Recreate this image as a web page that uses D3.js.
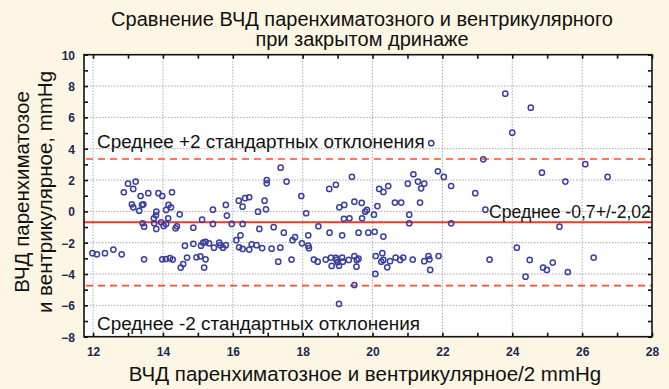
<!DOCTYPE html>
<html>
<head>
<meta charset="utf-8">
<script src="https://cdn.jsdelivr.net/npm/d3@7"></script>
<style>
  html, body { margin: 0; padding: 0; background: #fdf6e4; }
  svg { display: block; }
</style>
</head>
<body>
<script>
// Bland–Altman style comparison: mean of the two ICP readings vs. their difference
const meanICP = [
  12.88, 13.00, 13.22, 13.15, 13.36, 13.58, 13.87, 13.98, 14.26, 13.11,
  13.15, 13.44, 13.40, 13.32, 13.81, 14.16, 14.23, 14.09, 14.48, 13.80,
  13.74, 14.15, 13.42, 13.46, 13.75, 13.81, 13.95, 14.02, 14.09, 14.36,
  14.40, 14.87, 15.12, 15.43, 15.43, 15.80, 15.83, 15.97, 11.98, 12.11,
  12.34, 12.58, 12.82, 13.46, 13.98, 14.08, 14.20, 14.28, 14.51, 14.58,
  14.69, 14.63, 14.87, 15.09, 15.15, 15.22, 15.32, 15.46, 15.61, 15.64,
  15.72, 15.80, 14.96, 15.07, 15.22, 15.18,
  17.37, 16.97, 16.97, 17.54, 16.17, 16.35, 16.47, 16.28, 16.91, 16.72,
  16.95, 17.96, 18.10, 18.76, 18.95, 19.41, 19.05, 19.19, 19.48, 19.69,
  19.18, 19.34, 19.70, 19.79, 19.84, 20.04, 20.14, 20.19, 16.28, 16.76,
  17.17, 17.46, 17.78, 17.71, 18.16, 18.45, 18.77, 19.13, 19.60, 19.88,
  20.06, 16.10, 16.22, 16.18, 16.28, 16.47, 16.54, 16.68, 16.84, 17.11,
  17.36, 17.98, 18.16, 18.18, 17.30, 17.68, 18.32, 18.43, 18.66, 18.81,
  18.83, 18.95, 18.97, 19.00, 19.04, 19.13, 19.15, 19.32, 19.48, 19.55,
  19.60, 19.54, 20.09, 20.08, 19.48, 19.04,
  21.68, 24.00, 23.17, 21.17, 21.87, 22.04, 20.31, 20.45, 21.01, 21.30,
  21.48, 21.39, 22.25, 22.94, 20.64, 20.82, 21.36, 23.23, 21.05, 21.05,
  22.25, 20.31, 24.13, 20.28, 20.31, 20.25, 20.42, 20.50, 20.66, 20.79,
  20.88, 21.15, 21.48, 21.60, 21.63, 21.89, 21.65, 23.35,
  23.80, 24.53, 24.85, 25.52, 26.09, 26.73, 25.35, 24.50, 24.88, 24.99,
  25.16, 24.38, 25.59, 26.33
];
const diffICP = [
   1.22,  1.77,  1.90,  1.43,  0.98,  1.16,  1.16,  0.98,  1.22,  0.45,
   0.26,  0.45,  0.41,  0.04, -0.02,  0.41,  0.26,  0.09, -0.19, -0.25,
  -0.44, -0.44, -0.76, -0.98, -0.76, -1.12, -0.70, -0.93, -0.80, -1.08,
  -0.95, -1.04, -0.53,  0.11, -0.80,  0.41, -0.27, -0.80, -2.67, -2.74,
  -2.67, -2.44, -2.74, -3.06, -3.06, -3.04, -2.99, -3.08, -3.59, -3.36,
  -2.95, -2.19, -2.07, -2.19, -2.00, -1.95, -2.04, -2.32, -2.00, -2.16,
  -2.32, -2.16, -2.93, -2.87, -3.06, -3.59,
   2.79,  2.00,  1.79,  1.90,  0.68,  0.84,  0.90,  0.30,  0.68, -0.02,
   0.13,  0.98, -0.12,  1.43,  1.70,  2.21,  0.26,  0.41,  0.62,  0.54,
  -0.47, -0.44, -0.44, -0.02,  0.09, -0.21,  0.34,  1.43, -0.80, -1.12,
  -1.01, -1.36, -1.65, -1.84, -1.53, -0.95, -1.36, -1.53, -1.36, -1.36,
  -1.30, -1.84, -1.53, -2.29, -2.40, -2.44, -2.10, -2.16, -2.34, -2.38,
  -2.32, -2.04, -2.19, -2.35, -3.21, -3.08, -3.08, -3.21, -3.08, -2.95,
  -3.48, -2.97, -3.10, -3.25, -3.47, -2.95, -3.21, -3.10, -2.85, -3.10,
  -3.02, -3.53, -2.85, -3.99, -4.70, -5.91,
   4.35,  5.02,  3.32,  2.37,  2.56,  2.20,  1.24,  1.62,  1.77,  1.90,
   1.77,  1.47,  1.62,  1.16,  0.56,  0.56,  0.56,  0.11, -0.21, -0.76,
  -0.76, -1.61, -2.32, -2.67, -3.10, -3.21, -3.57, -3.18, -2.95, -3.10,
  -2.95, -3.08, -3.18, -2.85, -3.06, -2.85, -3.74, -3.08,
   7.51,  6.62,  2.47,  1.90,  3.01,  2.20, -0.98, -3.10, -3.59, -3.74,
  -3.27, -4.17, -3.87, -2.95
];

// summary statistics of the difference
const meanDiff = -0.7;
const sdDiff = 2.02;

const xDomain = [11.74, 28];
const yDomain = [-8, 10];
const xTickValues = [12, 14, 16, 18, 20, 22, 24, 26, 28];
const yTickValues = [-8, -6, -4, -2, 0, 2, 4, 6, 8, 10];

const titleLines = ["Сравнение ВЧД паренхиматозного и вентрикулярного", "при закрытом дринаже"];
const xLabel = "ВЧД паренхиматозное и вентрикулярное/2 mmHg";
const yLabelLines = ["ВЧД паренхиматозое", "и вентрикулярное, mmHg"];
const upperLabel = "Среднее +2 стандартных отклонения";
const lowerLabel = "Среднее -2 стандартных отклонения";
const meanLabel = "Среднее -0,7+/-2,02";

const W = 669, H = 389;
const plot = { left: 84, right: 652, top: 54.7, bottom: 336.7 };
const FONT = "'Liberation Sans', Arial, sans-serif";
const TICKFONT = "'Liberation Sans Narrow', 'Liberation Sans', Arial, sans-serif";

const svg = d3.select("body").append("svg").attr("width", W).attr("height", H);
svg.append("rect").attr("width", W).attr("height", H).attr("fill", "#fdf6e4");

const x = d3.scaleLinear().domain(xDomain).range([plot.left, plot.right]);
const y = d3.scaleLinear().domain(yDomain).range([plot.bottom, plot.top]);

// plot background
svg.append("rect")
  .attr("x", plot.left).attr("y", plot.top)
  .attr("width", plot.right - plot.left).attr("height", plot.bottom - plot.top)
  .attr("fill", "#ffffff");

// dotted grid at even values
const grid = svg.append("g").attr("stroke", "#a9a9a9").attr("stroke-width", 1)
  .attr("stroke-dasharray", "1.5,1.5");
grid.selectAll("line.gx").data(xTickValues.filter(v => v < xDomain[1])).join("line")
  .attr("x1", d => x(d)).attr("x2", d => x(d))
  .attr("y1", plot.top).attr("y2", plot.bottom);
grid.selectAll("line.gy").data(yTickValues.filter(v => v > yDomain[0] && v < yDomain[1])).join("line")
  .attr("y1", d => y(d)).attr("y2", d => y(d))
  .attr("x1", plot.left).attr("x2", plot.right);

// limits of agreement and mean difference
const upper = meanDiff + 2 * sdDiff;
const lower = meanDiff - 2 * sdDiff;
svg.selectAll("line.loa").data([upper, lower]).join("line")
  .attr("x1", plot.left + 2).attr("x2", plot.right)
  .attr("y1", d => y(d)).attr("y2", d => y(d))
  .attr("stroke", "#ff4b33").attr("stroke-width", 1.6)
  .attr("stroke-dasharray", "7,5");
svg.append("line")
  .attr("x1", plot.left).attr("x2", plot.right)
  .attr("y1", y(meanDiff)).attr("y2", y(meanDiff))
  .attr("stroke", "#ee3a2a").attr("stroke-width", 2);

// points
svg.append("g").selectAll("circle").data(meanICP.map((m, i) => [m, diffICP[i]])).join("circle")
  .attr("cx", d => x(d[0])).attr("cy", d => y(d[1]))
  .attr("r", 2.6)
  .attr("fill", "none").attr("stroke", "#3a3f9e").attr("stroke-width", 1.5);

// annotations
svg.append("text").attr("x", 97).attr("y", 148).text(upperLabel)
  .attr("font-family", FONT).attr("font-size", 18.9).attr("fill", "#111");
svg.append("text").attr("x", 97).attr("y", 330).text(lowerLabel)
  .attr("font-family", FONT).attr("font-size", 18.9).attr("fill", "#111");
svg.append("text").attr("x", 489).attr("y", 218).text(meanLabel)
  .attr("font-family", FONT).attr("font-size", 17.6).attr("fill", "#111");

// frame with inward ticks on all four sides
const minorX = d3.range(12, 29, 1);
const minorY = d3.range(-8, 11, 1);
const axes = svg.append("g");
axes.append("g").attr("transform", `translate(0,${plot.bottom})`)
  .call(d3.axisTop(x).tickValues(minorX).tickSize(4).tickFormat(""));
axes.append("g").attr("transform", `translate(0,${plot.top})`)
  .call(d3.axisBottom(x).tickValues(minorX).tickSize(4).tickFormat(""));
axes.append("g").attr("transform", `translate(${plot.left},0)`)
  .call(d3.axisRight(y).tickValues(minorY).tickSize(4).tickFormat(""));
axes.append("g").attr("transform", `translate(${plot.right},0)`)
  .call(d3.axisLeft(y).tickValues(minorY).tickSize(4).tickFormat(""));
axes.selectAll(".domain").remove();
axes.selectAll(".tick line").attr("stroke", "#111").attr("stroke-width", 1.6);
svg.append("rect")
  .attr("x", plot.left).attr("y", plot.top)
  .attr("width", plot.right - plot.left).attr("height", plot.bottom - plot.top)
  .attr("fill", "none").attr("stroke", "#111").attr("stroke-width", 1.6);

// tick labels
const xAxisLabels = svg.append("g").attr("transform", `translate(0,${plot.bottom + 8})`)
  .call(d3.axisBottom(x).tickValues(xTickValues).tickSize(0).tickFormat(d3.format("d")));
xAxisLabels.select(".domain").remove();
const yAxisLabels = svg.append("g").attr("transform", `translate(${plot.left - 6},0)`)
  .call(d3.axisLeft(y).tickValues(yTickValues).tickSize(0).tickFormat(d3.format("d")));
yAxisLabels.select(".domain").remove();
svg.selectAll(".tick text").filter(function () { return this.textContent !== ""; })
  .attr("font-family", TICKFONT).attr("font-size", 12).attr("font-weight", "bold")
  .attr("fill", "#1b2850");
yAxisLabels.selectAll("text").attr("dy", "0.36em");

// title
svg.append("text").attr("text-anchor", "middle").attr("font-family", FONT)
  .attr("font-size", 20).attr("fill", "#111")
  .selectAll("tspan").data(titleLines).join("tspan")
  .attr("x", 362).attr("y", (d, i) => 26 + i * 20).text(d => d);

// axis titles
svg.append("text").attr("x", (plot.left + plot.right) / 2 - 3).attr("y", 381)
  .attr("text-anchor", "middle").attr("font-family", FONT).attr("font-size", 20.5)
  .attr("fill", "#111").text(xLabel);
svg.append("text").attr("transform", "rotate(-90)")
  .attr("text-anchor", "middle").attr("font-family", FONT).attr("font-size", 20.5)
  .attr("fill", "#111")
  .selectAll("tspan").data(yLabelLines).join("tspan")
  .attr("x", -192).attr("y", (d, i) => 29 + i * 23).text(d => d);
</script>
</body>
</html>
